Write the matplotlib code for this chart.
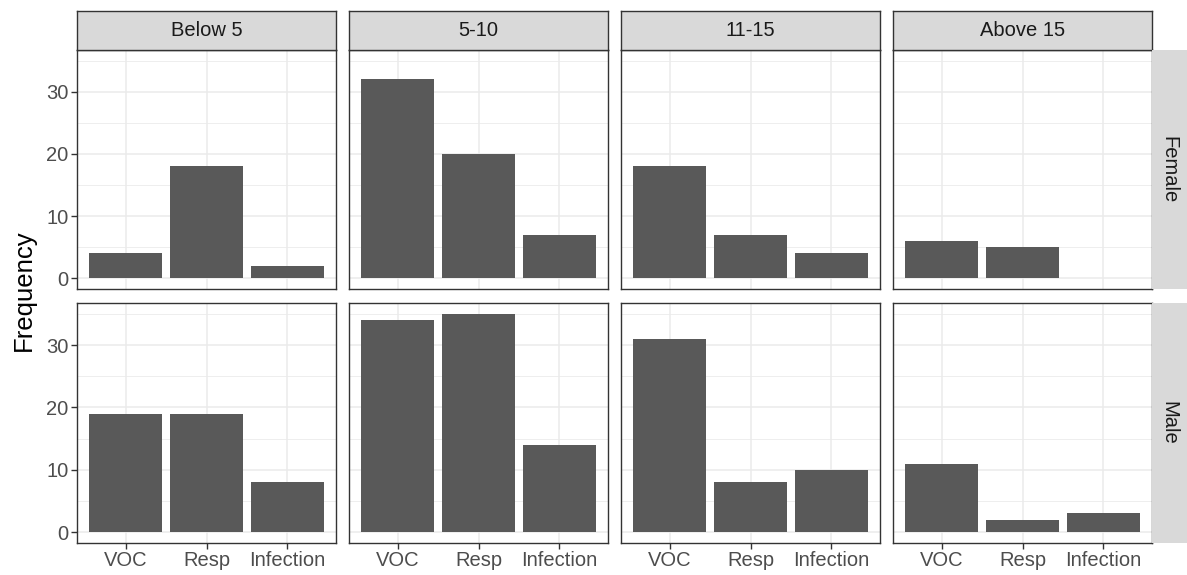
import matplotlib.pyplot as plt

plt.rcParams["font.family"] = ["Liberation Sans", "DejaVu Sans"]

age_groups = ["Below 5", "5-10", "11-15", "Above 15"]
sexes = ["Female", "Male"]
categories = ["VOC", "Resp", "Infection"]

female_counts = [
    [4, 18, 2],
    [32, 20, 7],
    [18, 7, 4],
    [6, 5, 0],
]
male_counts = [
    [19, 19, 8],
    [34, 35, 14],
    [31, 8, 10],
    [11, 2, 3],
]
counts = {"Female": female_counts, "Male": male_counts}

W, H = 1187, 575
fig = plt.figure(figsize=(W / 100, H / 100), dpi=100)

left0 = 77
panel_w = 259
gap = 13
rows_px = [(50, 289), (303, 543)]  # top, bottom in pixels
ymax_all = 35
ylim = (-0.05 * ymax_all, ymax_all * 1.05)

border = "#333333"
strip_fill = "#D9D9D9"
grid_col = "#EBEBEB"
bar_col = "#595959"
tick_col = "#4D4D4D"


def px_rect(x0, y0, x1, y1):
    return [x0 / W, 1 - y1 / H, (x1 - x0) / W, (y1 - y0) / H]


for r, sex in enumerate(sexes):
    top, bot = rows_px[r]
    for c, grp in enumerate(age_groups):
        x0 = left0 + c * (panel_w + gap)
        x1 = x0 + panel_w
        ax = fig.add_axes(px_rect(x0, top, x1, bot))
        xs = range(len(categories))
        ax.bar(xs, counts[sex][c], width=0.9, color=bar_col, zorder=3)
        ax.set_xlim(-0.6, 2.6)
        ax.set_ylim(*ylim)
        ax.set_yticks([0, 10, 20, 30])
        ax.set_yticks([5, 15, 25, 35], minor=True)
        ax.set_xticks(list(xs))
        ax.grid(True, which="major", color=grid_col, lw=1.1, zorder=0)
        ax.grid(True, which="minor", axis="y", color=grid_col, lw=0.6, zorder=0)
        ax.tick_params(which="minor", length=0)
        ax.tick_params(which="major", length=4, width=1, color=border,
                       labelcolor=tick_col, labelsize=14.5, pad=2)
        for s in ax.spines.values():
            s.set_color(border)
            s.set_linewidth(1)
        if r == 0:
            ax.set_xticklabels([])
            ax.tick_params(axis="x", length=0)
        else:
            ax.set_xticklabels(categories)
        if c != 0:
            ax.set_yticklabels([])
            ax.tick_params(axis="y", length=0)

        if r == 0:
            sax = fig.add_axes(px_rect(x0, 11, x1, top))
            sax.set_xticks([])
            sax.set_yticks([])
            sax.set_facecolor(strip_fill)
            for s in sax.spines.values():
                s.set_color(border)
                s.set_linewidth(1)
            sax.text(0.5, 0.5, grp, ha="center", va="center", fontsize=14.5,
                     color="#1A1A1A", transform=sax.transAxes)

    rx0 = left0 + 4 * panel_w + 3 * gap
    sax = fig.add_axes(px_rect(rx0, top, W, bot))
    sax.set_xticks([])
    sax.set_yticks([])
    sax.set_facecolor(strip_fill)
    for s in sax.spines.values():
        s.set_visible(False)
    sax.text(17 / (W - rx0), 0.5, sex, ha="center", va="center",
             rotation=-90, fontsize=14.5, color="#1A1A1A",
             transform=sax.transAxes)

fig.text(24 / W, 1 - 290 / H, "Frequency", rotation=90, ha="center",
         va="center", fontsize=18.5, color="black")

fig.savefig("out.png", dpi=100)
